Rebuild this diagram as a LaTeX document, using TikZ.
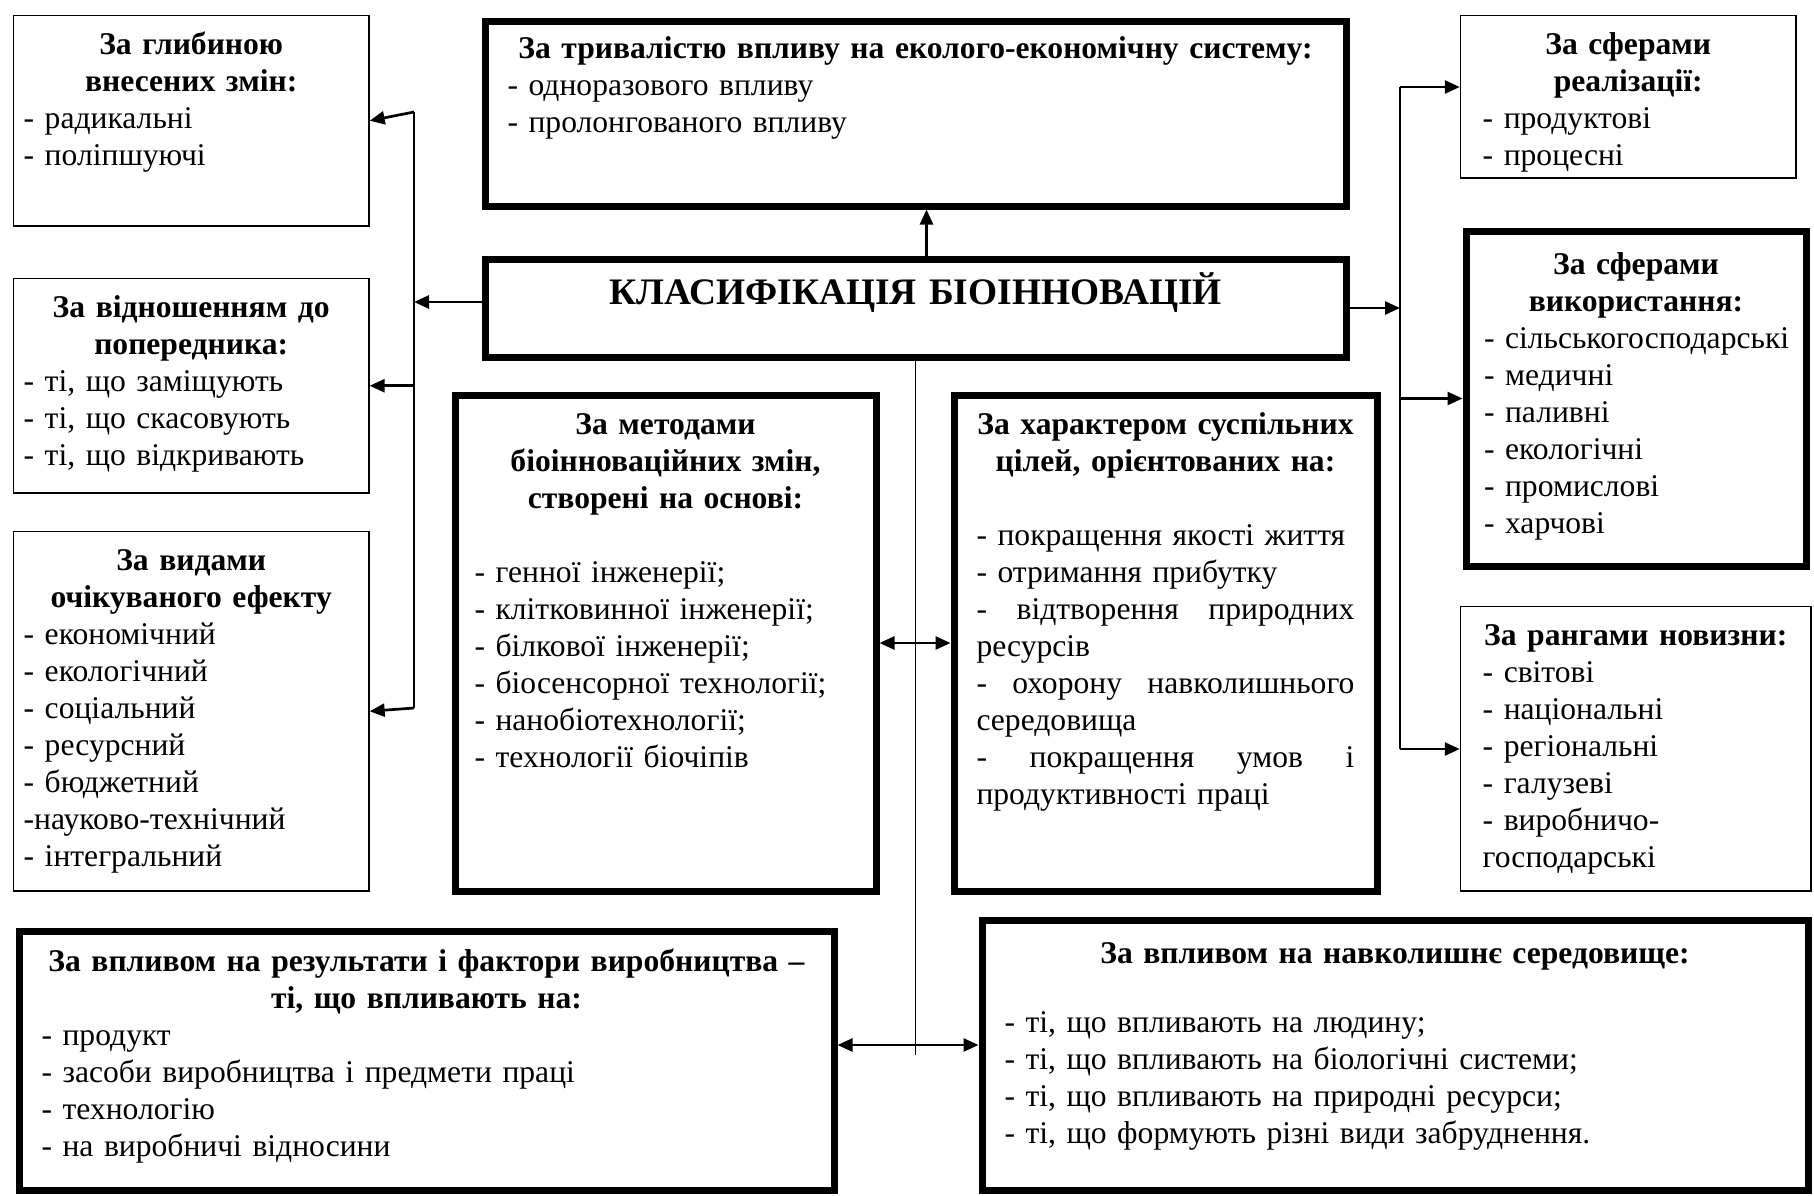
\documentclass[tikz,border=0pt]{standalone}
\usepackage{fontspec}
\setmainfont{Liberation Serif}
\usetikzlibrary{arrows.meta}
\newcommand{\boxtitle}[1]{\makebox[\linewidth]{\bfseries #1}\par}

\begin{document}
\begin{tikzpicture}[
    x=0.5pt, y=-0.5pt,
    font=\fontsize{15.8}{18.5}\selectfont,
    thinbox/.style={draw, line width=0.75pt, anchor=north west, inner xsep=5.1pt, inner ysep=6.3pt, text height=13pt, align=left},
    thickbox/.style={draw, line width=3.5pt, anchor=north west, inner xsep=11.25pt, inner ysep=6.75pt, text height=13pt, align=left},
    line/.style={line width=0.65pt},
    arr/.style={line width=1.35pt, -{Triangle[length=7.5pt,width=6.5pt]}},
    dblarr/.style={line width=1.35pt, {Triangle[length=7.5pt,width=6.5pt]}-{Triangle[length=7.5pt,width=6.5pt]}}
]
\useasboundingbox (0,0) rectangle (1814,1195);

% left column
\node[thinbox, text width=167.5pt, text depth=79.65pt] (glyb) at (12.75,14.75)
  {\boxtitle{За глибиною}\boxtitle{внесених змін:}
   - радикальні\\
   - поліпшуючі};
\node[thinbox, text width=167.5pt, text depth=81.65pt] (vidn) at (12.75,277.75)
  {\boxtitle{За відношенням до}\boxtitle{попередника:}
   - ті, що заміщують\\
   - ті, що скасовують\\
   - ті, що відкривають};
\node[thinbox, text width=167.5pt, text depth=154.15pt] (vydy) at (12.75,530.75)
  {\boxtitle{За видами}\boxtitle{очікуваного ефекту}
   - економічний\\
   - екологічний\\
   - соціальний\\
   - ресурсний\\
   - бюджетний\\
   -науково-технічний\\
   - інтегральний};

% centre
\node[thickbox, text width=408pt, inner ysep=5.75pt, text depth=68pt] (tryv) at (481.5,17.5)
  {\boxtitle{За тривалістю впливу на еколого-економічну систему:}
   - одноразового впливу\\
   - пролонгованого впливу};
\node[thickbox, text width=408pt, inner ysep=9.85pt, text depth=16.3pt, align=center,
      font=\fontsize{18.7}{22}\selectfont\bfseries] (main) at (481.5,255.5)
  {КЛАСИФІКАЦІЯ БІОІННОВАЦІЙ};
\node[thickbox, text width=191pt, inner xsep=9.75pt, text depth=221.5pt] (metody) at (451.5,391.5)
  {\boxtitle{За методами}\boxtitle{біоінноваційних змін,}\boxtitle{створені на основі:}
   \vspace{18.5pt}
   - генної інженерії;\\
   - клітковинної інженерії;\\
   - білкової інженерії;\\
   - біосенсорної технології;\\
   - нанобіотехнології;\\
   - технології біочіпів};
\node[thickbox, text width=189pt, text depth=221.5pt] (kharakter) at (950.5,391.5)
  {\boxtitle{За характером суспільних}\boxtitle{цілей, орієнтованих на:}
   \vspace{18.5pt}
   - покращення якості життя\\
   - отримання прибутку\\
   -\hfill відтворення\hfill природних\\
   ресурсів\\
   -\hfill охорону\hfill навколишнього\\
   середовища\\
   -\hfill покращення\hfill умов\hfill і\\
   продуктивності праці};

% right column
\node[thinbox, text width=145.55pt, inner xsep=11.1pt, text depth=55.65pt] (realiz) at (1459.75,14.75)
  {\boxtitle{За сферами}\boxtitle{реалізації:}
   - продуктові\\
   - процесні};
\node[thickbox, text width=152pt, inner xsep=9pt, inner ysep=8.5pt, text depth=137.5pt] (vykor) at (1462.5,227.5)
  {\boxtitle{За сферами}\boxtitle{використання:}
   \mbox{- сільськогосподарські}\\
   - медичні\\
   - паливні\\
   - екологічні\\
   - промислові\\
   - харчові};
\node[thinbox, text width=153.05pt, inner xsep=11.1pt, text depth=116.65pt] (rangy) at (1459.75,605.75)
  {\boxtitle{За рангами новизни:}
   - світові\\
   - національні\\
   - регіональні\\
   - галузеві\\
   - виробничо-\\
   господарські};

% bottom
\node[thickbox, text width=385pt, inner ysep=7.25pt, text depth=102pt] (vplyv) at (15.5,927.5)
  {\boxtitle{За впливом на результати і фактори виробництва –}\boxtitle{ті, що впливають на:}
   - продукт\\
   - засоби виробництва і предмети праці\\
   - технологію\\
   - на виробничі відносини};
\node[thickbox, text width=390.5pt, inner ysep=8.75pt, text depth=104.5pt] (seredov) at (978.5,916.5)
  {\boxtitle{За впливом на навколишнє середовище:}
   \vspace{16pt}
   - ті, що впливають на людину;\\
   - ті, що впливають на біологічні системи;\\
   - ті, що впливають на природні ресурси;\\
   - ті, що формують різні види забруднення.};

\coordinate (lt) at (414,112);
\coordinate (lb) at (414,708);
\coordinate (rt) at (1400,87);
\coordinate (rb) at (1400,749);
\coordinate (cb) at (913,1055);
\coordinate (cm) at (913,1045);

% left connectors
\draw[line] (lt) -- (lb);
\draw[arr] (lt) -- (glyb.east);
\draw[arr] ([yshift=3pt]main.west) -- ([yshift=3pt]main.west -| lt);
\draw[arr] (vidn.east -| lt) -- (vidn.east);
\draw[arr] (lb) -- (vydy.east);

% up and right
\draw[arr] ([xshift=5.5pt]main.north) -- ([xshift=5.5pt]tryv.south);
\draw[line] (rt) -- (rb);
\draw[arr] (main.east) -- (main.east -| rt);
\draw[arr] (rt) -- (rt -| realiz.west);
\draw[arr] (vykor.west -| rt) -- (vykor.west);
\draw[arr] (rb) -- (rb -| rangy.west);

% down
\draw[line] (main.south) -- (main.south |- cb);
\draw[dblarr] (metody.east) -- (kharakter.west);
\draw[dblarr] (vplyv.east |- cm) -- (seredov.west |- cm);

\end{tikzpicture}
\end{document}
